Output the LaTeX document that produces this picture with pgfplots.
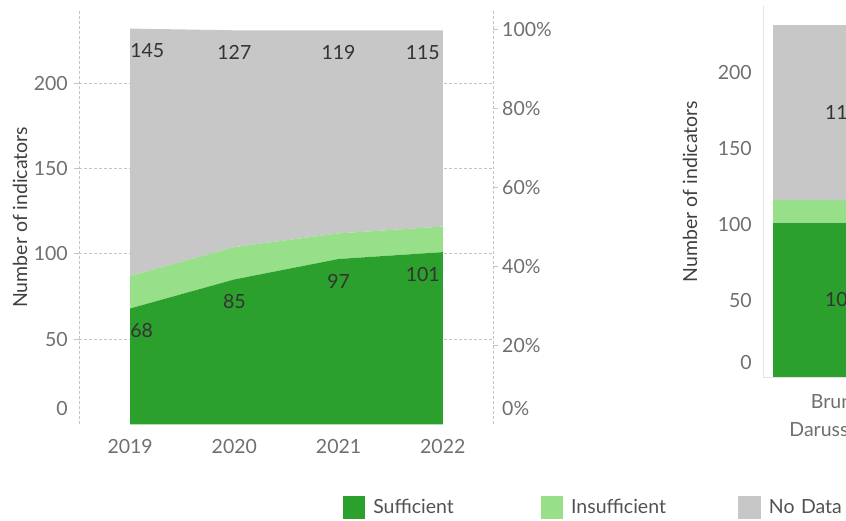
\documentclass[border=0pt]{standalone}
\usepackage{fontspec}
\setmainfont{Lato}
\usepackage{pgfplots}
\pgfplotsset{compat=1.18}
\definecolor{suff}{HTML}{2CA02C}
\definecolor{insuff}{HTML}{98DF8A}
\definecolor{nodata}{HTML}{C7C7C7}
\definecolor{ticktext}{HTML}{6F6F6F}
\definecolor{labtext}{HTML}{333333}
\definecolor{gridc}{HTML}{C4C4C4}
\definecolor{axisc}{HTML}{E3E3E3}
\newcommand{\fs}{\fontsize{19.5bp}{23bp}\selectfont}
\pgfplotsset{
  every axis/.append style={font=\fs, /pgf/number format/assume math mode=true},
  tick label style={text=ticktext, inner sep=0pt},
}
\begin{document}
\begin{tikzpicture}
\useasboundingbox (0bp,0bp) rectangle (846bp,521bp);
\clip (0bp,0bp) rectangle (846bp,521bp);

% ---------- left panel: stacked areas ----------
\begin{axis}[
  at={(79bp,96.5bp)}, anchor=south west, scale only axis,
  width=414bp, height=414.5bp,
  xmin=2018.509, xmax=2022.482, ymin=0, ymax=242.9,
  stack plots=y,
  tick align=outside, major tick length=5bp,
  axis x line*=bottom, axis y line*=left,
  x axis line style={draw=none},
  xtick style={draw=none},
  ytick style={draw=gridc, line width=0.8bp},
  y axis line style={draw=gridc, dash pattern=on 3bp off 2bp, line width=0.8bp},
  xtick={2019,2020,2021,2022}, xticklabels={2019,2020,2021,2022},
  xticklabel style={anchor=center, yshift=-17.5bp},
  ytick={50,100,150,200},
  extra y ticks={0},
  extra y tick style={grid=none, major tick length=0pt, yticklabel style={yshift=15.5bp, xshift=-5bp}},
  yticklabel style={anchor=east, xshift=-6bp},
  ymajorgrids,
  major grid style={draw=gridc, dash pattern=on 3bp off 2bp, line width=0.8bp},
  ylabel={Number of indicators},
  every axis y label/.style={at={(axis description cs:-0.1425,0.5)}, rotate=90, anchor=center, text=black!75},
  legend columns=-1,
  legend image code/.code={\fill[#1] (0bp,-11.2bp) rectangle (22.3bp,11.2bp);},
  legend style={at={(axis description cs:0.637,-0.2)}, anchor=west, draw=none, fill=none,
    inner sep=0pt, outer sep=0pt, column sep=0pt,
    nodes={inner sep=0pt, text width=167.2bp, align=left, text=black!68, font=\fs}},
  /tikz/every odd column/.append style={column sep=8.3bp},
]
\addplot[draw=none, fill=suff] coordinates {(2019,68) (2020,85) (2021,97) (2022,101)} \closedcycle;
\addlegendentry{Sufficient}
\addplot[draw=none, fill=insuff] coordinates {(2019,19) (2020,19) (2021,15) (2022,15)} \closedcycle;
\addlegendentry{Insufficient}
\addplot[draw=none, fill=nodata] coordinates {(2019,145) (2020,127) (2021,119) (2022,115)} \closedcycle;
\addlegendentry{No Data}
\end{axis}

% ---------- left panel: percent axis ----------
\begin{axis}[
  at={(79bp,96.5bp)}, anchor=south west, scale only axis,
  width=414bp, height=414.5bp,
  xmin=2018.509, xmax=2022.482, ymin=0, ymax=104.88,
  tick align=outside, major tick length=5bp,
  axis x line=none, axis y line*=right,
  ytick style={draw=gridc, line width=0.8bp},
  y axis line style={draw=gridc, dash pattern=on 3bp off 2bp, line width=0.8bp},
  ytick={20,40,60,80,100},
  extra y ticks={0},
  extra y tick style={major tick length=0pt, yticklabel style={yshift=15.5bp, xshift=5bp}},
  yticklabel={\pgfmathprintnumber{\tick}\%},
  yticklabel style={anchor=west, xshift=4bp},
]
\end{axis}

% ---------- left panel: value labels ----------
\begin{axis}[
  at={(79bp,96.5bp)}, anchor=south west, scale only axis,
  width=414bp, height=414.5bp,
  xmin=2018.509, xmax=2022.482, ymin=0, ymax=242.9,
  hide axis, clip=false,
  nodes near coords, point meta=explicit symbolic,
  every node near coord/.append style={text=labtext, font=\fs, inner sep=0pt, yshift=-22bp},
]
\addplot[draw=none, nodes near coords style={anchor=west}] coordinates {(2019,232) [145] (2019,68) [68]};
\addplot[draw=none, nodes near coords style={anchor=center}] coordinates {(2020,231) [127] (2021,231) [119] (2020,85) [85] (2021,97) [97]};
\addplot[draw=none, nodes near coords style={anchor=east, xshift=-2.8bp}] coordinates {(2022,231) [115] (2022,101) [101]};
\end{axis}

% ---------- right panel: stacked bar ----------
\begin{axis}[
  at={(763bp,144bp)}, anchor=south west, scale only axis,
  width=300bp, height=371bp,
  xmin=763, xmax=1063, ymin=0, ymax=243.3,
  major tick length=0pt,
  ybar stacked, bar width=132.6,
  axis x line*=bottom, axis y line*=left,
  axis line style={draw=axisc, line width=0.8bp},
  xtick={839}, xticklabels={Brunei\\Darussalam},
  xticklabel style={align=center, anchor=north, yshift=-17.5bp, font=\fontsize{19.5bp}{28bp}\selectfont},
  ytick={50,100,150,200},
  extra y ticks={0},
  extra y tick style={yticklabel style={yshift=14bp}},
  yticklabel style={anchor=east, xshift=-11bp},
  ylabel={Number of indicators},
  every axis y label/.style={at={(axis description cs:-0.2433,0.5)}, rotate=90, anchor=center, text=black!75},
]
\addplot[draw=none, fill=suff] coordinates {(839,101)};
\addplot[draw=none, fill=insuff] coordinates {(839,15)};
\addplot[draw=none, fill=nodata] coordinates {(839,115)};
\end{axis}

% ---------- right panel: value labels ----------
\begin{axis}[
  at={(763bp,144bp)}, anchor=south west, scale only axis,
  width=300bp, height=371bp,
  xmin=763, xmax=1063, ymin=0, ymax=243.3,
  hide axis, clip=false,
  nodes near coords, point meta=explicit symbolic,
  every node near coord/.append style={text=labtext, font=\fs, inner sep=0pt, anchor=center},
]
\addplot[draw=none] coordinates {(842,173.5) [115] (842,50.5) [101]};
\end{axis}
\end{tikzpicture}
\end{document}
